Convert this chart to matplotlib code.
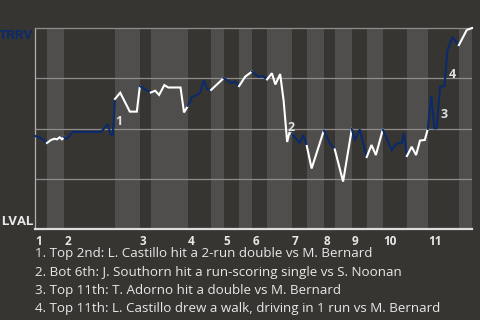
import numpy as np
import matplotlib
matplotlib.use("Agg")
import matplotlib.pyplot as plt

# game progress (0-100) and TRRV win probability (%)
prog = [0, 1.14, 2.75, 3.66, 4.46, 5.03, 5.65, 6.18, 6.64, 7.21,
        7.78, 8.70, 15.1, 16.7, 17.2, 17.8, 18.3, 19.5, 21.7, 23.3,
        24.0, 25.4, 26.5, 27.5, 28.4, 29.6, 30.5, 33.3, 34.1, 35.0,
        35.9, 37.1, 37.8, 38.6, 39.4, 40.3, 43.2, 45.0, 45.8, 46.7,
        48.1, 49.7, 51.1, 52.1, 53.1, 54.2, 55.0, 56.1, 56.9, 57.7,
        58.2, 58.8, 60.6, 61.4, 62.2, 63.3, 66.1, 67.4, 68.6, 70.5,
        72.5, 73.2, 74.3, 75.9, 77.0, 78.0, 79.6, 81.6, 82.8, 83.9,
        84.4, 85.1, 86.2, 87.2, 88.1, 89.2, 89.9, 90.7, 91.4, 91.9,
        92.7, 93.7, 94.0, 94.4, 95.5, 97.0, 97.6, 98.8, 100]
wp = [46.3, 45.5, 42.8, 44.3, 44.9, 44.6, 45.6, 44.6, 45.8, 44.8,
      46.0, 48.3, 48.3, 52.2, 47.3, 46.8, 64.7, 67.8, 58.4, 58.4,
      71.1, 69.2, 67.9, 68.8, 66.7, 71.6, 70.4, 70.4, 58.0, 61.2,
      65.7, 66.7, 67.9, 74.1, 69.5, 69.2, 75.1, 72.5, 73.4, 71.1,
      75.8, 78.4, 75.8, 76.1, 74.4, 77.5, 71.9, 77.1, 63.7, 43.3,
      47.8, 47.3, 42.8, 46.8, 41.3, 30.1, 49.0, 43.0, 39.6, 23.6,
      49.8, 44.0, 49.6, 35.8, 41.8, 36.8, 49.5, 39.3, 42.6, 42.6,
      47.6, 36.3, 40.9, 36.8, 44.0, 44.3, 49.8, 66.2, 50.1, 50.1,
      70.8, 71.1, 79.1, 89.1, 95.4, 91.5, 94.0, 99.0, 100]

# half-inning boundaries (top 1st, bot 1st, top 2nd, ...)
halves = [0, 2.75, 6.64, 18.3, 24.0, 26.5, 35.0, 40.3, 43.2, 46.7, 49.7,
          53.1, 58.8, 62.2, 66.1, 68.6, 72.5, 75.9, 79.6, 85.1, 89.9, 97.0, 100]
innings = [str(i) for i in range(1, 12)]

# key plays: index of the point after the play, label
event_idx = [16, 49, 80, 82]
event_lbl = ["1", "2", "3", "4"]
captions = [
    "1. Top 2nd: L. Castillo hit a 2-run double vs M. Bernard",
    "2. Bot 6th: J. Southorn hit a run-scoring single vs S. Noonan",
    "3. Top 11th: T. Adorno hit a double vs M. Bernard",
    "4. Top 11th: L. Castillo drew a walk, driving in 1 run vs M. Bernard",
]

bg = "#373531"
band = "#4f4e4c"
blue = "#0b2a6c"
txt = "#e8e8e8"

fig = plt.figure(figsize=(4.8, 3.2), dpi=100, facecolor=bg)
ax = fig.add_axes([35 / 480, 1 - 229 / 320, 437 / 480, 201 / 320])
ax.set_facecolor(bg)

x = np.array(prog)
y = np.array(wp)

for k in range(len(halves) - 1):
    lo, hi = halves[k], halves[k + 1]
    if k % 2 == 1:
        ax.axvspan(lo, hi, color=band, lw=0, zorder=0)
    m = (x >= lo - 1e-6) & (x <= hi + 1e-6)
    ax.plot(x[m], y[m], color=blue if k % 2 == 0 else "white", lw=1.5,
            solid_joinstyle="miter", zorder=3, clip_on=False)

for g in [25, 50, 75]:
    ax.axhline(g, color="#8e8d8b", lw=0.9, zorder=2)

ax.set_xlim(0, 100)
ax.set_ylim(0, 100)
ax.set_xticks([])
ax.set_yticks([])
ax.spines["right"].set_visible(False)
ax.spines["top"].set_color("#8e8d8b")
ax.spines["top"].set_linewidth(0.9)
ax.spines["left"].set_color("#b0b0b0")
ax.spines["left"].set_linewidth(0.9)
ax.spines["bottom"].set_color("#dddddd")
ax.spines["bottom"].set_linewidth(1.6)

fam = ["Open Sans", "DejaVu Sans"]
cond = ["Roboto", "DejaVu Sans"]

offs = [(3.3, -3.6), (4.2, -4.7), (4.1, -5.4), (5.0, 2.9)]
for i, lab, o in zip(event_idx, event_lbl, offs):
    mx = (x[i - 1] + x[i]) / 2
    my = (y[i - 1] + y[i]) / 2
    ax.annotate(lab, (mx, my), xytext=o, textcoords="offset points",
                ha="center", va="center", color="#e0e0e0",
                fontsize=9, fontweight="bold", family=fam, zorder=4)

for n, lab in enumerate(innings):
    ax.text(halves[2 * n], -3, lab, ha="left", va="top", color=txt,
            fontsize=8.5, fontweight="bold", family=fam)

ax.text(-0.4, 99.5, "TRRV", ha="right", va="top", color=blue,
        fontsize=9.6, fontweight="bold", family=cond, clip_on=False)
ax.text(-0.4, 0.5, "LVAL", ha="right", va="bottom", color=txt,
        fontsize=9.6, fontweight="bold", family=cond, clip_on=False)

for j, c in enumerate(captions):
    fig.text(35 / 480, 1 - (254 + 18.2 * j) / 320, c, ha="left", va="center",
             color=txt, fontsize=9.6, family=fam)

fig.savefig("out.png", dpi=100, facecolor=bg)
